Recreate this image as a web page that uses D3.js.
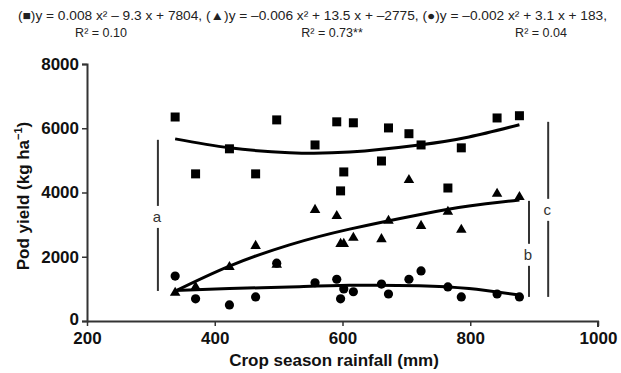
<!DOCTYPE html>
<html>
<head>
<meta charset="utf-8">
<script src="https://cdn.jsdelivr.net/npm/d3@7"></script>
<style>
  body { margin: 0; background: #fff; }
  svg { font-family: "Liberation Sans", Arial, Helvetica, sans-serif; }
</style>
</head>
<body>
<div id="vis"></div>
<script>
// seasons (crop season rainfall, mm)
var rainfall = [338, 370, 423, 464, 497, 557, 591, 597, 602, 617, 661, 672, 704, 723, 765, 786, 842, 877];
// pod yield, kg/ha
var squareYield   = [6350, 4580, 5360, 4580, 6260, 5480, 6200, 4050, 4640, 6170, 4980, 6010, 5830, 5480, 4140, 5390, 6320, 6390];
var triangleYield = [910, 1090, 1710, 2370, 1780, 3490, 3300, 2430, 2430, 2620, 2580, 3150, 4420, 2990, 3430, 2870, 3990, 3890];
var circleYield   = [1400, 690, 500, 750, 1800, 1190, 1300, 690, 1000, 910, 1150, 840, 1300, 1560, 1060, 750, 840, 750];

// fitted curves
var fitX        = [338, 423, 517, 611, 720, 798, 877];
var squareFit   = [5670, 5390, 5240, 5260, 5480, 5730, 6110];
var triangleFit = [930, 1710, 2370, 2860, 3310, 3580, 3770];
var circleFit   = [950, 1010, 1060, 1110, 1100, 1010, 810];

// range bars
var barLetters = ["a", "b", "c"];
var barX       = [311, 892, 922];
var barLow     = [935, 750, 750];
var barHigh    = [5640, 3740, 6200];
var barMid     = [3240, 2060, 3460];

var xTicks = [200, 400, 600, 800, 1000];
var yTicks = [0, 2000, 4000, 6000, 8000];

var eqLine1 = ["(\u25A0)y = 0.008 x\u00B2 \u2013 9.3 x + 7804,", "(\u25B2)y = \u20130.006 x\u00B2 + 13.5 x + \u20132775,", "(\u25CF)y = \u20130.002 x\u00B2 + 3.1 x + 183,"];
var eqLine2 = ["R\u00B2 = 0.10", "R\u00B2 = 0.73**", "R\u00B2 = 0.04"];

var width = 621, height = 373;
var svg = d3.select("#vis").append("svg")
    .attr("width", width)
    .attr("height", height);

var x = d3.scaleLinear().domain([200, 1000]).range([87, 598]);
var y = d3.scaleLinear().domain([0, 8000]).range([321, 64]);

// equations header
svg.append("text")
    .attr("x", 18).attr("y", 20)
    .attr("font-size", 12.5)
    .attr("textLength", 589)
    .attr("lengthAdjust", "spacingAndGlyphs")
    .attr("fill", "#222")
    .text(eqLine1.join(" "));

var r2X = [101, 332, 541];
svg.selectAll(".r2")
  .data(eqLine2)
  .enter().append("text")
    .attr("class", "r2")
    .attr("x", function(d, i) { return r2X[i]; })
    .attr("y", 37)
    .attr("text-anchor", "middle")
    .attr("font-size", 12.5)
    .attr("fill", "#222")
    .text(function(d) { return d; });

// axes
var xAxis = svg.append("g")
    .attr("transform", "translate(0," + y(0) + ")")
    .call(d3.axisBottom(x).tickValues(xTicks).tickSize(5).tickPadding(6).tickFormat(d3.format("d")));
var yAxis = svg.append("g")
    .attr("transform", "translate(" + x(200) + ",0)")
    .call(d3.axisLeft(y).tickValues(yTicks).tickSize(5).tickPadding(3).tickFormat(d3.format("d")));

[xAxis, yAxis].forEach(function(ax) {
  ax.select(".domain").attr("stroke", "#333").attr("stroke-width", 2);
  ax.selectAll(".tick line").attr("stroke", "#333").attr("stroke-width", 1.5);
  ax.selectAll(".tick text")
    .attr("font-family", "'Liberation Sans', Arial, sans-serif")
    .attr("font-size", 17)
    .attr("font-weight", "bold")
    .attr("fill", "#111");
});
xAxis.select(".domain").attr("d", "M" + x(200) + ",0.5H" + x(1000) + "V6");
yAxis.selectAll(".tick text").filter(function(d) { return d === 0; }).attr("dy", "0.2em");

svg.append("text")
    .attr("x", 334).attr("y", 366)
    .attr("text-anchor", "middle")
    .attr("font-size", 17)
    .attr("font-weight", "bold")
    .attr("fill", "#111")
    .text("Crop season rainfall (mm)");

var yt = svg.append("text")
    .attr("transform", "translate(29,196) rotate(-90)")
    .attr("text-anchor", "middle")
    .attr("font-size", 17)
    .attr("font-weight", "bold")
    .attr("fill", "#111");
yt.append("tspan").text("Pod yield (kg ha");
yt.append("tspan").attr("font-size", 11).attr("dy", -7).text("\u22121");
yt.append("tspan").attr("dy", 7).text(")");

// range bars with letters
barLetters.forEach(function(l, i) {
  var cx = x(barX[i]), ym = y(barMid[i]), gap = 11;
  svg.append("line")
    .attr("x1", cx).attr("x2", cx)
    .attr("y1", y(barHigh[i])).attr("y2", ym - gap)
    .attr("stroke", "#333").attr("stroke-width", 2);
  svg.append("line")
    .attr("x1", cx).attr("x2", cx)
    .attr("y1", ym + gap).attr("y2", y(barLow[i]))
    .attr("stroke", "#333").attr("stroke-width", 2);
  svg.append("text")
    .attr("x", cx - 1).attr("y", ym + 5)
    .attr("text-anchor", "middle")
    .attr("font-size", 15)
    .attr("fill", "#333")
    .text(l);
});

// fitted curves
var line = d3.line()
    .x(function(d) { return x(d[0]); })
    .y(function(d) { return y(d[1]); })
    .curve(d3.curveNatural);

[squareFit, triangleFit, circleFit].forEach(function(f) {
  svg.append("path")
    .datum(fitX.map(function(v, i) { return [v, f[i]]; }))
    .attr("d", line)
    .attr("fill", "none")
    .attr("stroke", "#000")
    .attr("stroke-width", 3);
});

// points
var pts = function(vals) { return rainfall.map(function(r, i) { return [r, vals[i]]; }); };

svg.selectAll(".sq")
  .data(pts(squareYield))
  .enter().append("rect")
    .attr("class", "sq")
    .attr("x", function(d) { return x(d[0]) - 4.5; })
    .attr("y", function(d) { return y(d[1]) - 4.5; })
    .attr("width", 9).attr("height", 9)
    .attr("fill", "#000");

svg.selectAll(".tri")
  .data(pts(triangleYield))
  .enter().append("path")
    .attr("class", "tri")
    .attr("d", d3.symbol().type(d3.symbolTriangle).size(48))
    .attr("transform", function(d) { return "translate(" + x(d[0]) + "," + (y(d[1]) + 1) + ")"; })
    .attr("fill", "#000");

svg.selectAll(".dot")
  .data(pts(circleYield))
  .enter().append("circle")
    .attr("class", "dot")
    .attr("cx", function(d) { return x(d[0]); })
    .attr("cy", function(d) { return y(d[1]); })
    .attr("r", 4.6)
    .attr("fill", "#000");
</script>
</body>
</html>
